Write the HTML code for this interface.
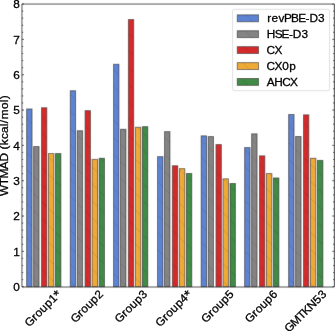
<!DOCTYPE html><html><head><meta charset="utf-8"><style>html,body{margin:0;padding:0;background:#fff;width:335px;height:331px;overflow:hidden}svg{display:block}text{font-family:"Liberation Sans",sans-serif;fill:#000;stroke:#000;stroke-width:0.3px}</style></head><body>
<svg width="335" height="331" viewBox="0 0 335 331">
<defs><filter id="bl" x="-5%" y="-5%" width="110%" height="110%"><feConvolveMatrix order="3" kernelMatrix="0.00524 0.06192 0.00524 0.06192 0.73137 0.06192 0.00524 0.06192 0.00524" edgeMode="duplicate" preserveAlpha="true"/></filter><pattern id="ht" x="0" y="0" width="17" height="17" patternUnits="userSpaceOnUse"><path d="M-2,4.8 L12.2,19 M8.2,-2 L19,8.8" stroke="#000" stroke-opacity="0.13" stroke-width="0.8"/></pattern></defs>
<g filter="url(#bl)"><rect x="-20" y="-20" width="375" height="371" fill="#fff"/>
<rect x="26.65" y="108.95" width="5.40" height="177.75" fill="#5d84d2" stroke="#000" stroke-opacity="0.55" stroke-width="0.9"/>
<rect x="26.65" y="108.95" width="5.40" height="177.75" fill="url(#ht)"/>
<rect x="33.65" y="146.55" width="5.40" height="140.15" fill="#848484" stroke="#000" stroke-opacity="0.55" stroke-width="0.9"/>
<rect x="33.65" y="146.55" width="5.40" height="140.15" fill="url(#ht)"/>
<rect x="41.45" y="107.75" width="5.40" height="178.95" fill="#d42a2c" stroke="#000" stroke-opacity="0.55" stroke-width="0.9"/>
<rect x="41.45" y="107.75" width="5.40" height="178.95" fill="url(#ht)"/>
<rect x="48.50" y="153.55" width="5.40" height="133.15" fill="#eeaa35" stroke="#000" stroke-opacity="0.55" stroke-width="0.9"/>
<rect x="48.50" y="153.55" width="5.40" height="133.15" fill="url(#ht)"/>
<rect x="55.50" y="153.55" width="5.40" height="133.15" fill="#3f8b45" stroke="#000" stroke-opacity="0.55" stroke-width="0.9"/>
<rect x="55.50" y="153.55" width="5.40" height="133.15" fill="url(#ht)"/>
<rect x="70.25" y="90.75" width="5.40" height="195.95" fill="#5d84d2" stroke="#000" stroke-opacity="0.55" stroke-width="0.9"/>
<rect x="70.25" y="90.75" width="5.40" height="195.95" fill="url(#ht)"/>
<rect x="77.25" y="130.75" width="5.40" height="155.95" fill="#848484" stroke="#000" stroke-opacity="0.55" stroke-width="0.9"/>
<rect x="77.25" y="130.75" width="5.40" height="155.95" fill="url(#ht)"/>
<rect x="85.05" y="110.65" width="5.40" height="176.05" fill="#d42a2c" stroke="#000" stroke-opacity="0.55" stroke-width="0.9"/>
<rect x="85.05" y="110.65" width="5.40" height="176.05" fill="url(#ht)"/>
<rect x="92.10" y="159.35" width="5.40" height="127.35" fill="#eeaa35" stroke="#000" stroke-opacity="0.55" stroke-width="0.9"/>
<rect x="92.10" y="159.35" width="5.40" height="127.35" fill="url(#ht)"/>
<rect x="99.10" y="158.25" width="5.40" height="128.45" fill="#3f8b45" stroke="#000" stroke-opacity="0.55" stroke-width="0.9"/>
<rect x="99.10" y="158.25" width="5.40" height="128.45" fill="url(#ht)"/>
<rect x="113.55" y="64.25" width="5.40" height="222.45" fill="#5d84d2" stroke="#000" stroke-opacity="0.55" stroke-width="0.9"/>
<rect x="113.55" y="64.25" width="5.40" height="222.45" fill="url(#ht)"/>
<rect x="120.55" y="129.25" width="5.40" height="157.45" fill="#848484" stroke="#000" stroke-opacity="0.55" stroke-width="0.9"/>
<rect x="120.55" y="129.25" width="5.40" height="157.45" fill="url(#ht)"/>
<rect x="128.35" y="19.55" width="5.40" height="267.15" fill="#d42a2c" stroke="#000" stroke-opacity="0.55" stroke-width="0.9"/>
<rect x="128.35" y="19.55" width="5.40" height="267.15" fill="url(#ht)"/>
<rect x="135.40" y="127.25" width="5.40" height="159.45" fill="#eeaa35" stroke="#000" stroke-opacity="0.55" stroke-width="0.9"/>
<rect x="135.40" y="127.25" width="5.40" height="159.45" fill="url(#ht)"/>
<rect x="142.40" y="126.65" width="5.40" height="160.05" fill="#3f8b45" stroke="#000" stroke-opacity="0.55" stroke-width="0.9"/>
<rect x="142.40" y="126.65" width="5.40" height="160.05" fill="url(#ht)"/>
<rect x="157.55" y="156.65" width="5.40" height="130.05" fill="#5d84d2" stroke="#000" stroke-opacity="0.55" stroke-width="0.9"/>
<rect x="157.55" y="156.65" width="5.40" height="130.05" fill="url(#ht)"/>
<rect x="164.55" y="131.65" width="5.40" height="155.05" fill="#848484" stroke="#000" stroke-opacity="0.55" stroke-width="0.9"/>
<rect x="164.55" y="131.65" width="5.40" height="155.05" fill="url(#ht)"/>
<rect x="172.35" y="165.75" width="5.40" height="120.95" fill="#d42a2c" stroke="#000" stroke-opacity="0.55" stroke-width="0.9"/>
<rect x="172.35" y="165.75" width="5.40" height="120.95" fill="url(#ht)"/>
<rect x="179.40" y="168.65" width="5.40" height="118.05" fill="#eeaa35" stroke="#000" stroke-opacity="0.55" stroke-width="0.9"/>
<rect x="179.40" y="168.65" width="5.40" height="118.05" fill="url(#ht)"/>
<rect x="186.40" y="173.45" width="5.40" height="113.25" fill="#3f8b45" stroke="#000" stroke-opacity="0.55" stroke-width="0.9"/>
<rect x="186.40" y="173.45" width="5.40" height="113.25" fill="url(#ht)"/>
<rect x="201.15" y="135.85" width="5.40" height="150.85" fill="#5d84d2" stroke="#000" stroke-opacity="0.55" stroke-width="0.9"/>
<rect x="201.15" y="135.85" width="5.40" height="150.85" fill="url(#ht)"/>
<rect x="208.15" y="136.55" width="5.40" height="150.15" fill="#848484" stroke="#000" stroke-opacity="0.55" stroke-width="0.9"/>
<rect x="208.15" y="136.55" width="5.40" height="150.15" fill="url(#ht)"/>
<rect x="215.95" y="144.55" width="5.40" height="142.15" fill="#d42a2c" stroke="#000" stroke-opacity="0.55" stroke-width="0.9"/>
<rect x="215.95" y="144.55" width="5.40" height="142.15" fill="url(#ht)"/>
<rect x="223.00" y="178.85" width="5.40" height="107.85" fill="#eeaa35" stroke="#000" stroke-opacity="0.55" stroke-width="0.9"/>
<rect x="223.00" y="178.85" width="5.40" height="107.85" fill="url(#ht)"/>
<rect x="230.00" y="183.45" width="5.40" height="103.25" fill="#3f8b45" stroke="#000" stroke-opacity="0.55" stroke-width="0.9"/>
<rect x="230.00" y="183.45" width="5.40" height="103.25" fill="url(#ht)"/>
<rect x="244.65" y="147.55" width="5.40" height="139.15" fill="#5d84d2" stroke="#000" stroke-opacity="0.55" stroke-width="0.9"/>
<rect x="244.65" y="147.55" width="5.40" height="139.15" fill="url(#ht)"/>
<rect x="251.65" y="133.85" width="5.40" height="152.85" fill="#848484" stroke="#000" stroke-opacity="0.55" stroke-width="0.9"/>
<rect x="251.65" y="133.85" width="5.40" height="152.85" fill="url(#ht)"/>
<rect x="259.45" y="155.85" width="5.40" height="130.85" fill="#d42a2c" stroke="#000" stroke-opacity="0.55" stroke-width="0.9"/>
<rect x="259.45" y="155.85" width="5.40" height="130.85" fill="url(#ht)"/>
<rect x="266.50" y="173.55" width="5.40" height="113.15" fill="#eeaa35" stroke="#000" stroke-opacity="0.55" stroke-width="0.9"/>
<rect x="266.50" y="173.55" width="5.40" height="113.15" fill="url(#ht)"/>
<rect x="273.50" y="177.95" width="5.40" height="108.75" fill="#3f8b45" stroke="#000" stroke-opacity="0.55" stroke-width="0.9"/>
<rect x="273.50" y="177.95" width="5.40" height="108.75" fill="url(#ht)"/>
<rect x="288.65" y="114.45" width="5.40" height="172.25" fill="#5d84d2" stroke="#000" stroke-opacity="0.55" stroke-width="0.9"/>
<rect x="288.65" y="114.45" width="5.40" height="172.25" fill="url(#ht)"/>
<rect x="295.65" y="136.45" width="5.40" height="150.25" fill="#848484" stroke="#000" stroke-opacity="0.55" stroke-width="0.9"/>
<rect x="295.65" y="136.45" width="5.40" height="150.25" fill="url(#ht)"/>
<rect x="303.45" y="114.85" width="5.40" height="171.85" fill="#d42a2c" stroke="#000" stroke-opacity="0.55" stroke-width="0.9"/>
<rect x="303.45" y="114.85" width="5.40" height="171.85" fill="url(#ht)"/>
<rect x="310.50" y="158.25" width="5.40" height="128.45" fill="#eeaa35" stroke="#000" stroke-opacity="0.55" stroke-width="0.9"/>
<rect x="310.50" y="158.25" width="5.40" height="128.45" fill="url(#ht)"/>
<rect x="317.50" y="160.35" width="5.40" height="126.35" fill="#3f8b45" stroke="#000" stroke-opacity="0.55" stroke-width="0.9"/>
<rect x="317.50" y="160.35" width="5.40" height="126.35" fill="url(#ht)"/>
<path d="M21.95,287.0 V4.06 H334.2" fill="none" stroke="#222" stroke-width="0.8"/>
<path d="M21.95,287.0 H334.2" fill="none" stroke="#222" stroke-width="0.8"/>
<path d="M334.4,4.06 V287.0" fill="none" stroke="#111" stroke-width="1.0"/>
<line x1="21.95" y1="286.70" x2="23.849999999999998" y2="286.70" stroke="#111" stroke-width="0.9"/>
<line x1="334.2" y1="286.70" x2="332.3" y2="286.70" stroke="#222" stroke-width="0.8"/>
<line x1="21.95" y1="279.63" x2="23.15" y2="279.63" stroke="#111" stroke-width="0.9"/>
<line x1="334.2" y1="279.63" x2="333.0" y2="279.63" stroke="#222" stroke-width="0.8"/>
<line x1="21.95" y1="272.57" x2="23.15" y2="272.57" stroke="#111" stroke-width="0.9"/>
<line x1="334.2" y1="272.57" x2="333.0" y2="272.57" stroke="#222" stroke-width="0.8"/>
<line x1="21.95" y1="265.50" x2="23.15" y2="265.50" stroke="#111" stroke-width="0.9"/>
<line x1="334.2" y1="265.50" x2="333.0" y2="265.50" stroke="#222" stroke-width="0.8"/>
<line x1="21.95" y1="258.44" x2="23.15" y2="258.44" stroke="#111" stroke-width="0.9"/>
<line x1="334.2" y1="258.44" x2="333.0" y2="258.44" stroke="#222" stroke-width="0.8"/>
<line x1="21.95" y1="251.37" x2="23.849999999999998" y2="251.37" stroke="#111" stroke-width="0.9"/>
<line x1="334.2" y1="251.37" x2="332.3" y2="251.37" stroke="#222" stroke-width="0.8"/>
<line x1="21.95" y1="244.30" x2="23.15" y2="244.30" stroke="#111" stroke-width="0.9"/>
<line x1="334.2" y1="244.30" x2="333.0" y2="244.30" stroke="#222" stroke-width="0.8"/>
<line x1="21.95" y1="237.24" x2="23.15" y2="237.24" stroke="#111" stroke-width="0.9"/>
<line x1="334.2" y1="237.24" x2="333.0" y2="237.24" stroke="#222" stroke-width="0.8"/>
<line x1="21.95" y1="230.17" x2="23.15" y2="230.17" stroke="#111" stroke-width="0.9"/>
<line x1="334.2" y1="230.17" x2="333.0" y2="230.17" stroke="#222" stroke-width="0.8"/>
<line x1="21.95" y1="223.11" x2="23.15" y2="223.11" stroke="#111" stroke-width="0.9"/>
<line x1="334.2" y1="223.11" x2="333.0" y2="223.11" stroke="#222" stroke-width="0.8"/>
<line x1="21.95" y1="216.04" x2="23.849999999999998" y2="216.04" stroke="#111" stroke-width="0.9"/>
<line x1="334.2" y1="216.04" x2="332.3" y2="216.04" stroke="#222" stroke-width="0.8"/>
<line x1="21.95" y1="208.97" x2="23.15" y2="208.97" stroke="#111" stroke-width="0.9"/>
<line x1="334.2" y1="208.97" x2="333.0" y2="208.97" stroke="#222" stroke-width="0.8"/>
<line x1="21.95" y1="201.91" x2="23.15" y2="201.91" stroke="#111" stroke-width="0.9"/>
<line x1="334.2" y1="201.91" x2="333.0" y2="201.91" stroke="#222" stroke-width="0.8"/>
<line x1="21.95" y1="194.84" x2="23.15" y2="194.84" stroke="#111" stroke-width="0.9"/>
<line x1="334.2" y1="194.84" x2="333.0" y2="194.84" stroke="#222" stroke-width="0.8"/>
<line x1="21.95" y1="187.78" x2="23.15" y2="187.78" stroke="#111" stroke-width="0.9"/>
<line x1="334.2" y1="187.78" x2="333.0" y2="187.78" stroke="#222" stroke-width="0.8"/>
<line x1="21.95" y1="180.71" x2="23.849999999999998" y2="180.71" stroke="#111" stroke-width="0.9"/>
<line x1="334.2" y1="180.71" x2="332.3" y2="180.71" stroke="#222" stroke-width="0.8"/>
<line x1="21.95" y1="173.64" x2="23.15" y2="173.64" stroke="#111" stroke-width="0.9"/>
<line x1="334.2" y1="173.64" x2="333.0" y2="173.64" stroke="#222" stroke-width="0.8"/>
<line x1="21.95" y1="166.58" x2="23.15" y2="166.58" stroke="#111" stroke-width="0.9"/>
<line x1="334.2" y1="166.58" x2="333.0" y2="166.58" stroke="#222" stroke-width="0.8"/>
<line x1="21.95" y1="159.51" x2="23.15" y2="159.51" stroke="#111" stroke-width="0.9"/>
<line x1="334.2" y1="159.51" x2="333.0" y2="159.51" stroke="#222" stroke-width="0.8"/>
<line x1="21.95" y1="152.45" x2="23.15" y2="152.45" stroke="#111" stroke-width="0.9"/>
<line x1="334.2" y1="152.45" x2="333.0" y2="152.45" stroke="#222" stroke-width="0.8"/>
<line x1="21.95" y1="145.38" x2="23.849999999999998" y2="145.38" stroke="#111" stroke-width="0.9"/>
<line x1="334.2" y1="145.38" x2="332.3" y2="145.38" stroke="#222" stroke-width="0.8"/>
<line x1="21.95" y1="138.31" x2="23.15" y2="138.31" stroke="#111" stroke-width="0.9"/>
<line x1="334.2" y1="138.31" x2="333.0" y2="138.31" stroke="#222" stroke-width="0.8"/>
<line x1="21.95" y1="131.25" x2="23.15" y2="131.25" stroke="#111" stroke-width="0.9"/>
<line x1="334.2" y1="131.25" x2="333.0" y2="131.25" stroke="#222" stroke-width="0.8"/>
<line x1="21.95" y1="124.18" x2="23.15" y2="124.18" stroke="#111" stroke-width="0.9"/>
<line x1="334.2" y1="124.18" x2="333.0" y2="124.18" stroke="#222" stroke-width="0.8"/>
<line x1="21.95" y1="117.12" x2="23.15" y2="117.12" stroke="#111" stroke-width="0.9"/>
<line x1="334.2" y1="117.12" x2="333.0" y2="117.12" stroke="#222" stroke-width="0.8"/>
<line x1="21.95" y1="110.05" x2="23.849999999999998" y2="110.05" stroke="#111" stroke-width="0.9"/>
<line x1="334.2" y1="110.05" x2="332.3" y2="110.05" stroke="#222" stroke-width="0.8"/>
<line x1="21.95" y1="102.98" x2="23.15" y2="102.98" stroke="#111" stroke-width="0.9"/>
<line x1="334.2" y1="102.98" x2="333.0" y2="102.98" stroke="#222" stroke-width="0.8"/>
<line x1="21.95" y1="95.92" x2="23.15" y2="95.92" stroke="#111" stroke-width="0.9"/>
<line x1="334.2" y1="95.92" x2="333.0" y2="95.92" stroke="#222" stroke-width="0.8"/>
<line x1="21.95" y1="88.85" x2="23.15" y2="88.85" stroke="#111" stroke-width="0.9"/>
<line x1="334.2" y1="88.85" x2="333.0" y2="88.85" stroke="#222" stroke-width="0.8"/>
<line x1="21.95" y1="81.79" x2="23.15" y2="81.79" stroke="#111" stroke-width="0.9"/>
<line x1="334.2" y1="81.79" x2="333.0" y2="81.79" stroke="#222" stroke-width="0.8"/>
<line x1="21.95" y1="74.72" x2="23.849999999999998" y2="74.72" stroke="#111" stroke-width="0.9"/>
<line x1="334.2" y1="74.72" x2="332.3" y2="74.72" stroke="#222" stroke-width="0.8"/>
<line x1="21.95" y1="67.65" x2="23.15" y2="67.65" stroke="#111" stroke-width="0.9"/>
<line x1="334.2" y1="67.65" x2="333.0" y2="67.65" stroke="#222" stroke-width="0.8"/>
<line x1="21.95" y1="60.59" x2="23.15" y2="60.59" stroke="#111" stroke-width="0.9"/>
<line x1="334.2" y1="60.59" x2="333.0" y2="60.59" stroke="#222" stroke-width="0.8"/>
<line x1="21.95" y1="53.52" x2="23.15" y2="53.52" stroke="#111" stroke-width="0.9"/>
<line x1="334.2" y1="53.52" x2="333.0" y2="53.52" stroke="#222" stroke-width="0.8"/>
<line x1="21.95" y1="46.46" x2="23.15" y2="46.46" stroke="#111" stroke-width="0.9"/>
<line x1="334.2" y1="46.46" x2="333.0" y2="46.46" stroke="#222" stroke-width="0.8"/>
<line x1="21.95" y1="39.39" x2="23.849999999999998" y2="39.39" stroke="#111" stroke-width="0.9"/>
<line x1="334.2" y1="39.39" x2="332.3" y2="39.39" stroke="#222" stroke-width="0.8"/>
<line x1="21.95" y1="32.32" x2="23.15" y2="32.32" stroke="#111" stroke-width="0.9"/>
<line x1="334.2" y1="32.32" x2="333.0" y2="32.32" stroke="#222" stroke-width="0.8"/>
<line x1="21.95" y1="25.26" x2="23.15" y2="25.26" stroke="#111" stroke-width="0.9"/>
<line x1="334.2" y1="25.26" x2="333.0" y2="25.26" stroke="#222" stroke-width="0.8"/>
<line x1="21.95" y1="18.19" x2="23.15" y2="18.19" stroke="#111" stroke-width="0.9"/>
<line x1="334.2" y1="18.19" x2="333.0" y2="18.19" stroke="#222" stroke-width="0.8"/>
<line x1="21.95" y1="11.13" x2="23.15" y2="11.13" stroke="#111" stroke-width="0.9"/>
<line x1="334.2" y1="11.13" x2="333.0" y2="11.13" stroke="#222" stroke-width="0.8"/>
<line x1="21.95" y1="4.06" x2="23.849999999999998" y2="4.06" stroke="#111" stroke-width="0.9"/>
<line x1="334.2" y1="4.06" x2="332.3" y2="4.06" stroke="#222" stroke-width="0.8"/>
<rect x="232.6" y="9.3" width="97.0" height="81.4" rx="2" ry="2" fill="#fff" stroke="#d6d6d6" stroke-width="0.8"/>
<rect x="237.25" y="14.85" width="21.3" height="6.9" fill="#5d84d2" stroke="#000" stroke-opacity="0.55" stroke-width="0.9"/>
<rect x="237.25" y="14.85" width="21.3" height="6.9" fill="url(#ht)"/>
<rect x="237.25" y="30.75" width="21.3" height="6.9" fill="#848484" stroke="#000" stroke-opacity="0.55" stroke-width="0.9"/>
<rect x="237.25" y="30.75" width="21.3" height="6.9" fill="url(#ht)"/>
<rect x="237.25" y="46.65" width="21.3" height="6.9" fill="#d42a2c" stroke="#000" stroke-opacity="0.55" stroke-width="0.9"/>
<rect x="237.25" y="46.65" width="21.3" height="6.9" fill="url(#ht)"/>
<rect x="237.25" y="62.65" width="21.3" height="6.9" fill="#eeaa35" stroke="#000" stroke-opacity="0.55" stroke-width="0.9"/>
<rect x="237.25" y="62.65" width="21.3" height="6.9" fill="url(#ht)"/>
<rect x="237.25" y="78.45" width="21.3" height="6.9" fill="#3f8b45" stroke="#000" stroke-opacity="0.55" stroke-width="0.9"/>
<rect x="237.25" y="78.45" width="21.3" height="6.9" fill="url(#ht)"/>
</g><g opacity="0.999">
<text transform="translate(267.00,22.20) scale(1.03,1)" x="0.26 4.41 11.12 16.48 23.30 30.27 37.45 41.19 49.59" y="0" font-size="11.5">revPBE-D3</text>
<text transform="translate(267.00,38.10) scale(1.03,1)" x="-0.17 7.48 14.18 21.36 25.10 33.50" y="0" font-size="11.5">HSE-D3</text>
<text transform="translate(267.00,54.00) scale(1.03,1)" x="-0.46 7.18" y="0" font-size="11.5">CX</text>
<text transform="translate(267.00,70.00) scale(1.03,1)" x="-0.46 7.18 14.81 21.53" y="0" font-size="11.5">CX0p</text>
<text transform="translate(267.00,85.80) scale(1.03,1)" x="-0.22 7.07 14.74 22.38" y="0" font-size="11.5">AHCX</text>
<text transform="translate(19.90,291.00) scale(1.03,1)" x="-6.56" y="0" font-size="11.5">0</text>
<text transform="translate(19.90,255.67) scale(1.03,1)" x="-6.56" y="0" font-size="11.5">1</text>
<text transform="translate(19.90,220.34) scale(1.03,1)" x="-6.56" y="0" font-size="11.5">2</text>
<text transform="translate(19.90,185.01) scale(1.03,1)" x="-6.56" y="0" font-size="11.5">3</text>
<text transform="translate(19.90,149.68) scale(1.03,1)" x="-6.56" y="0" font-size="11.5">4</text>
<text transform="translate(19.90,114.35) scale(1.03,1)" x="-6.56" y="0" font-size="11.5">5</text>
<text transform="translate(19.90,79.02) scale(1.03,1)" x="-6.56" y="0" font-size="11.5">6</text>
<text transform="translate(19.90,43.69) scale(1.03,1)" x="-6.56" y="0" font-size="11.5">7</text>
<text transform="translate(19.90,8.36) scale(1.03,1)" x="-6.56" y="0" font-size="11.5">8</text>
<text transform="translate(7.90,145.50) rotate(-90) scale(1.03,1)" x="-49.06 -38.68 -32.16 -23.02 -15.64 -7.33 -3.90 0.26 6.24 12.07 18.70 21.63 25.38 35.36 41.99 44.89" y="0" font-size="11.5">WTMAD (kcal/mol)</text>
<text transform="translate(45.74,310.94) rotate(-45) scale(1.03,1)" x="-22.61 -13.78 -9.65 -3.06 3.66 10.38" y="0" font-size="11.5">Group1</text><text transform="translate(45.74,310.94) rotate(-45) scale(1.03,1)" x="16.91" y="1.47" font-size="13.80">*</text>
<text transform="translate(89.69,309.01) rotate(-45) scale(1.03,1)" x="-19.96 -11.13 -7.00 -0.41 6.30 13.03" y="0" font-size="11.5">Group2</text>
<text transform="translate(133.79,309.01) rotate(-45) scale(1.03,1)" x="-19.96 -11.13 -7.00 -0.41 6.30 13.03" y="0" font-size="11.5">Group3</text>
<text transform="translate(176.49,310.94) rotate(-45) scale(1.03,1)" x="-22.61 -13.78 -9.65 -3.06 3.66 10.38" y="0" font-size="11.5">Group4</text><text transform="translate(176.49,310.94) rotate(-45) scale(1.03,1)" x="16.91" y="1.47" font-size="13.80">*</text>
<text transform="translate(220.39,309.01) rotate(-45) scale(1.03,1)" x="-19.96 -11.13 -7.00 -0.41 6.30 13.03" y="0" font-size="11.5">Group5</text>
<text transform="translate(263.99,309.01) rotate(-45) scale(1.03,1)" x="-19.96 -11.13 -7.00 -0.41 6.30 13.03" y="0" font-size="11.5">Group6</text>
<text transform="translate(308.21,313.81) rotate(-45) scale(1.03,1)" x="-26.43 -18.08 -9.01 -2.63 4.48 12.76 19.49" y="0" font-size="11.5">GMTKN53</text>
</g>
</svg></body></html>
